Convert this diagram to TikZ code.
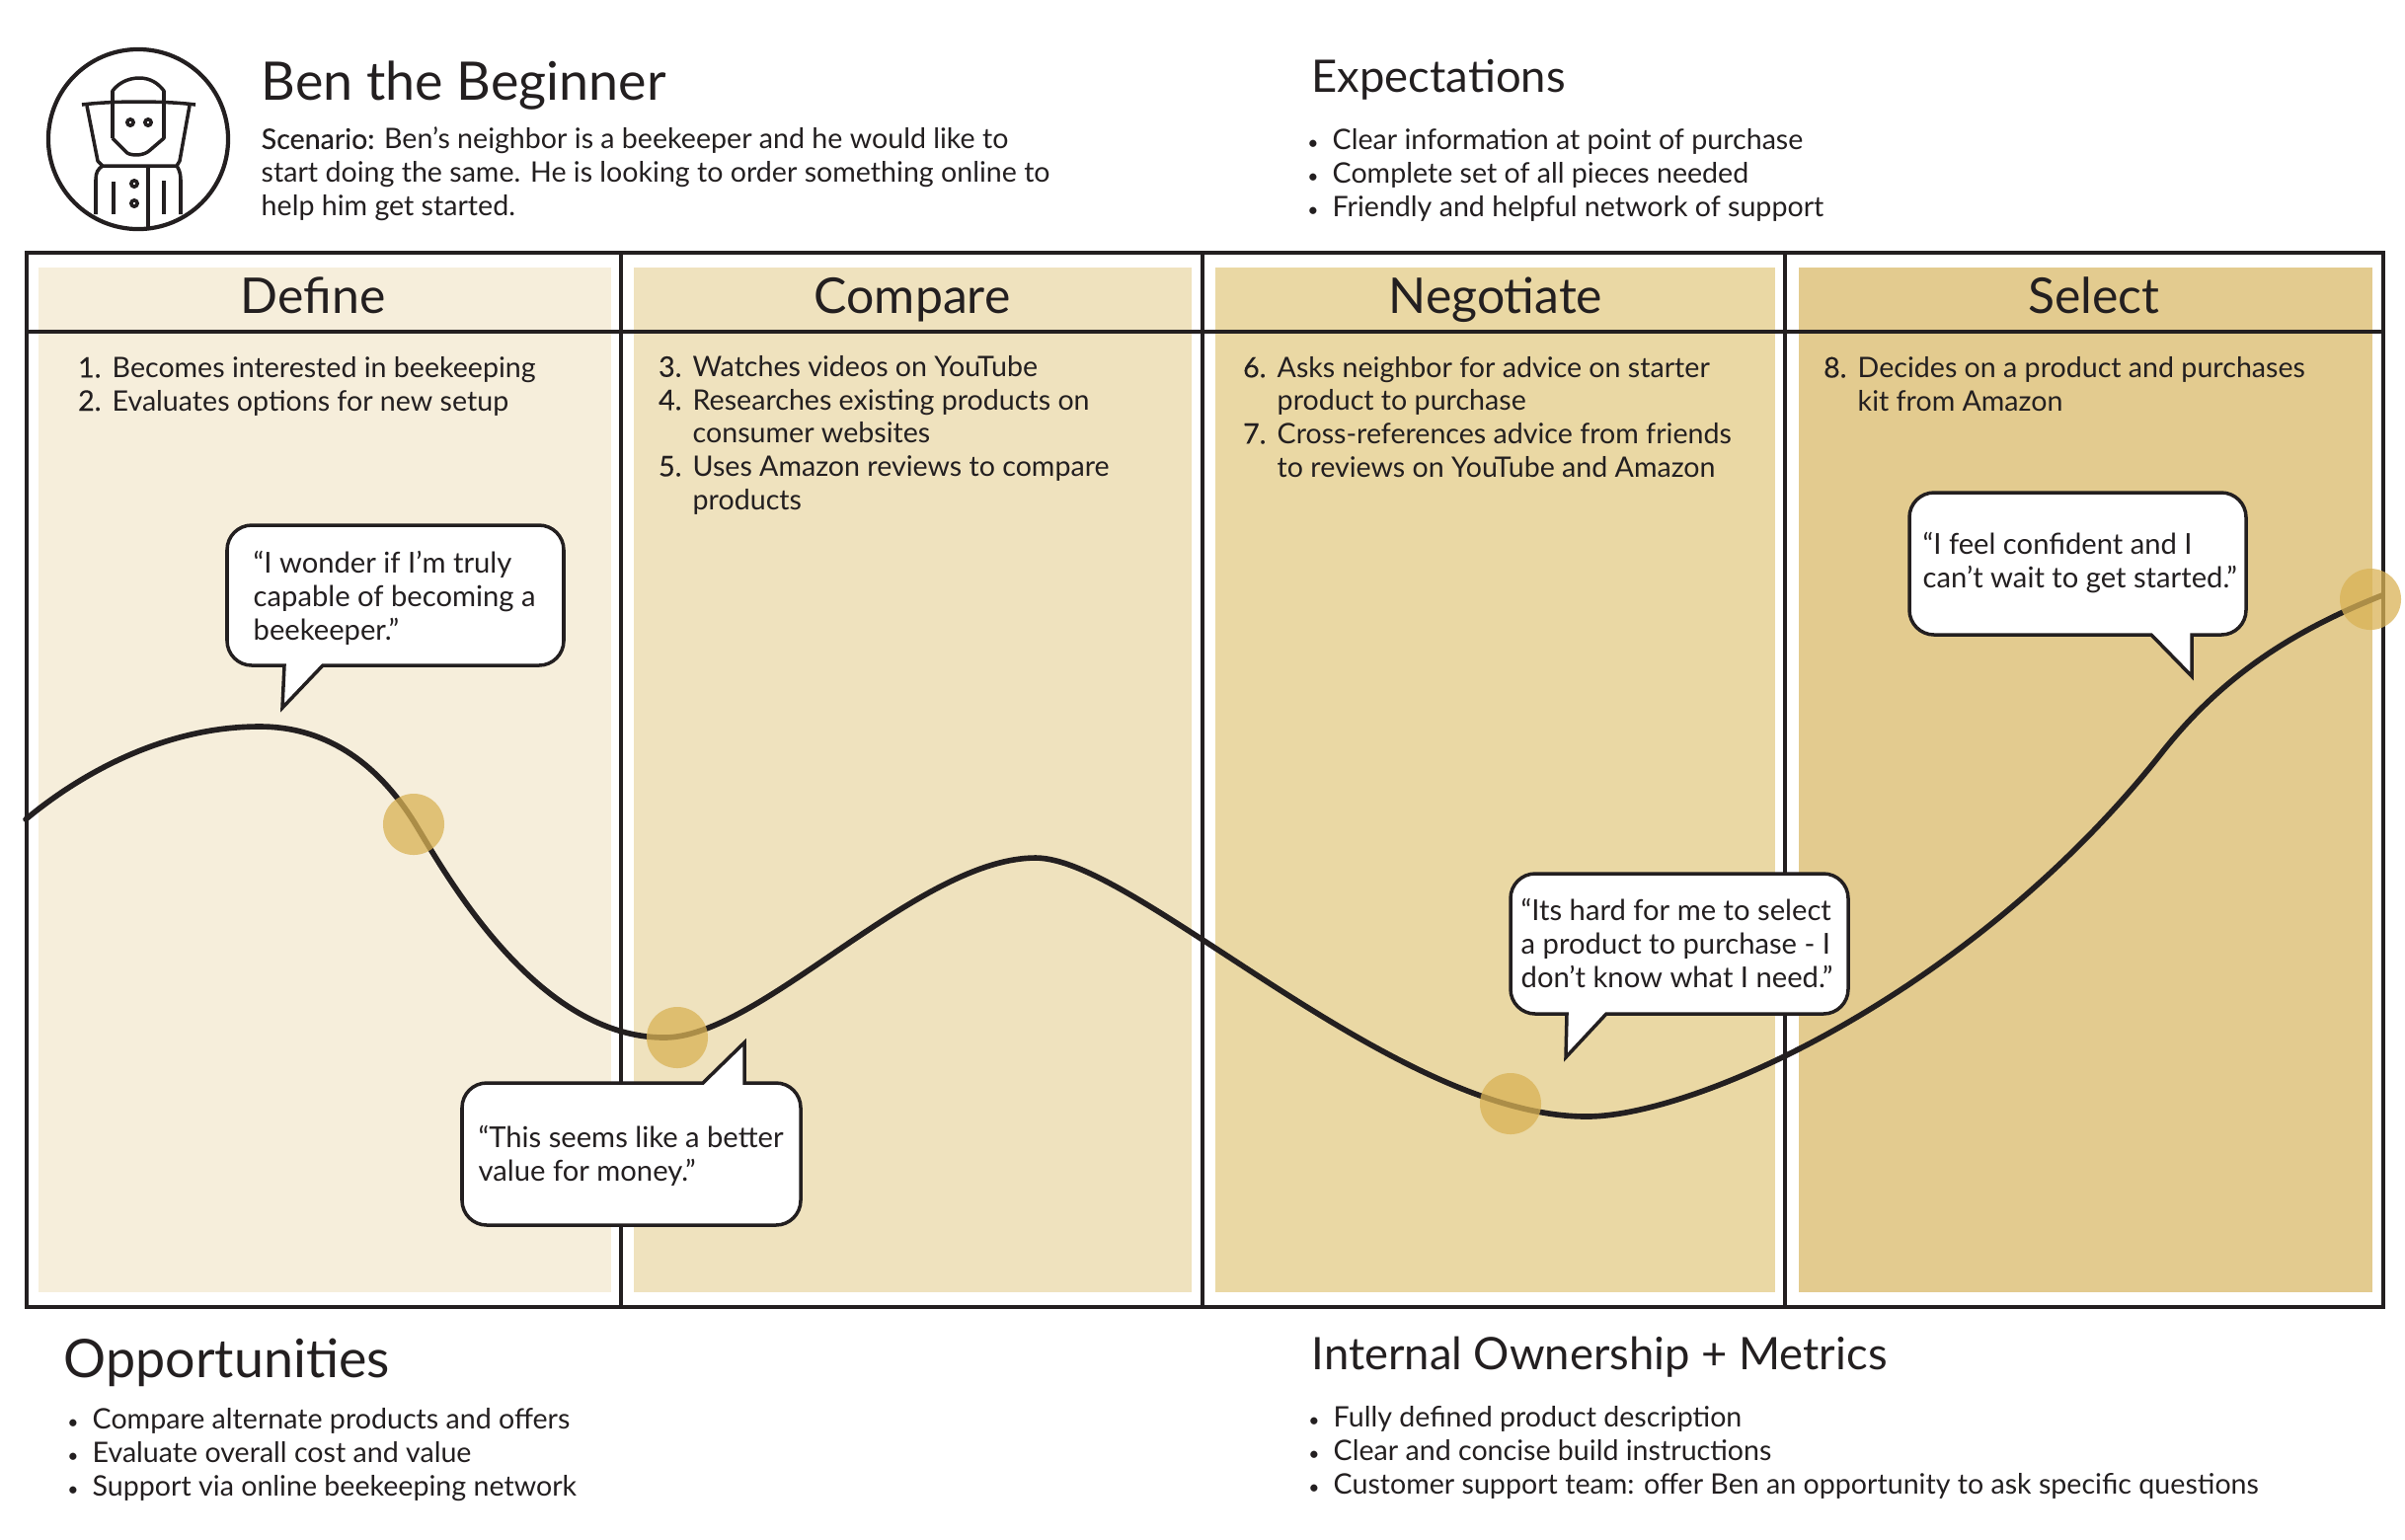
\documentclass[tikz,border=0pt]{standalone}
\usepackage{fontspec}
\setmainfont{Lato}
\newfontfamily\medfont[FakeBold=0.2]{Lato}
\definecolor{inkdark}{HTML}{231F20}
\definecolor{definefill}{HTML}{F6EEDB}
\definecolor{comparefill}{HTML}{EFE2BE}
\definecolor{negotiatefill}{HTML}{EAD8A4}
\definecolor{selectfill}{HTML}{E3CB8F}
\definecolor{dotfill}{HTML}{D9B255}
\newcommand{\numitem}[1]{\makebox[0pt][r]{\medfont #1\hspace{3.2pt}}}
\newcommand{\bulitem}{\makebox[0pt][r]{{\fontsize{5.5}{5.5}\selectfont\textbullet}\hspace{4pt}}}
\tikzset{
	body/.style={anchor=base west, align=left, inner sep=0pt, text=inkdark, font=\fontsize{8.13}{9.55}\selectfont},
	quotetext/.style={body, font=\fontsize{8.3}{9.55}\selectfont},
	bigtitle/.style={anchor=base west, inner sep=0pt, text=inkdark, font=\fontsize{15.3}{18}\selectfont},
	subtitle/.style={anchor=base west, inner sep=0pt, text=inkdark, font=\fontsize{12.9}{16}\selectfont},
	stagetitle/.style={anchor=base, inner sep=0pt, text=inkdark, font=\fontsize{14.2}{18}\selectfont},
	panel/.style={anchor=north west, inner sep=0pt, minimum height=10.38cm},
	bubble/.style={draw=inkdark, fill=white, line width=1pt, line join=miter},
	iconline/.style={draw=inkdark, line width=1pt, line join=round},
	touchdot/.style={circle, fill=dotfill, opacity=0.75, minimum size=0.62cm, inner sep=0pt},
}
\begin{document}
\begin{tikzpicture}[x=0.01cm, y=-0.01cm]
	\useasboundingbox (0,0) rectangle (2436,1559);

	% stage panels
	\node (definePanel) [panel, fill=definefill, minimum width=5.80cm] at (38,270) {};
	\node (comparePanel) [panel, fill=comparefill, minimum width=5.65cm] at (641,270) {};
	\node (negotiatePanel) [panel, fill=negotiatefill, minimum width=5.67cm] at (1230,270) {};
	\node (selectPanel) [panel, fill=selectfill, minimum width=5.81cm] at (1821,270) {};

	\node (defineTitle) [stagetitle] at (317,317) {Define};
	\node (compareTitle) [stagetitle] at (924,317) {Compare};
	\node (negotiateTitle) [stagetitle] at (1515,317) {Negotiate};
	\node (selectTitle) [stagetitle] at (2121,317) {Select};

	% frame
	\draw[draw=inkdark, line width=1.15pt] (27,256) rectangle (2414,1324);
	\draw[draw=inkdark, line width=1.15pt] (27,336) -- (2414,336);
	\draw[draw=inkdark, line width=1.15pt] (629,256) -- (629,1324);
	\draw[draw=inkdark, line width=1.15pt] (1218,256) -- (1218,1324);
	\draw[draw=inkdark, line width=1.15pt] (1808,256) -- (1808,1324);

	% journey line
	\draw[draw=inkdark, line width=1.6pt, line cap=round] (26,830)
		.. controls (80,785) and (165,736) .. (263,736)
		.. controls (335,736) and (385,778) .. (419,832)
		.. controls (447,877) and (540,1051) .. (673,1051)
		.. controls (770,1051) and (930,869) .. (1049,869)
		.. controls (1150,869) and (1410,1131) .. (1607,1131)
		.. controls (1720,1131) and (2000,1003) .. (2190,762)
		.. controls (2250,686) and (2320,640) .. (2413,603);

	\node (dotOne) [touchdot] at (419,835) {};
	\node (dotTwo) [touchdot] at (686,1051) {};
	\node (dotThree) [touchdot] at (1530,1118) {};
	\node (dotFour) [touchdot] at (2401,607) {};

	% quotes
	\draw[bubble] (288,674) [rounded corners=0.25cm] -- (230,674) -- (230,532) -- (571,532) -- (571,674) [sharp corners] -- (327,674) -- (286,717) -- cycle;
	\draw[bubble] (712,1097) [rounded corners=0.25cm] -- (468,1097) -- (468,1241) -- (811,1241) -- (811,1097) [sharp corners] -- (754,1097) -- (754,1056) -- cycle;
	\draw[bubble] (1587,1027) [rounded corners=0.25cm] -- (1530,1027) -- (1530,885) -- (1872,885) -- (1872,1027) [sharp corners] -- (1627,1027) -- (1586,1071) -- cycle;
	\draw[bubble] (2179,643) [rounded corners=0.25cm] -- (1934,643) -- (1934,499) -- (2275,499) -- (2275,643) [sharp corners] -- (2220,643) -- (2220,685) -- cycle;

	\node (quoteOne) [quotetext] at (256,648) {“I wonder if I’m truly\\capable of becoming a\\beekeeper.”};
	\node (quoteTwo) [quotetext] at (484,1196) {“This seems like a better\\value for money.”};
	\node (quoteThree) [quotetext] at (1540,1000) {“Its hard for me to select\\a product to purchase - I\\don’t know what I need.”};
	\node (quoteFour) [quotetext] at (1947,595) {“I feel confident and I\\can’t wait to get started.”};

	% stage steps
	\node (defineSteps) [body] at (113,416) {\numitem{1.}Becomes interested in beekeeping\\\numitem{2.}Evaluates options for new setup};
	\node (compareSteps) [body] at (701,516) {\numitem{3.}Watches videos on YouTube\\\numitem{4.}Researches existing products on\\consumer websites\\\numitem{5.}Uses Amazon reviews to compare\\products};
	\node (negotiateSteps) [body] at (1293,483) {\numitem{6.}Asks neighbor for advice on starter\\product to purchase\\\numitem{7.}Cross-references advice from friends\\to reviews on YouTube and Amazon};
	\node (selectSteps) [body] at (1881,416) {\numitem{8.}Decides on a product and purchases\\kit from Amazon};

	% persona
	\node (beeCircle) [circle, draw=inkdark, line width=1.2pt, minimum size=1.82cm, inner sep=0pt] at (140,141) {};
	\draw[iconline] (114,140) -- (114,103) -- (114,92) .. controls (120,84) and (130,79) .. (141,79) .. controls (152,79) and (160,84) .. (166,92) -- (166,140) -- (152,152) .. controls (146,158) and (134,158) .. (129,155) -- (114,140);
	\draw[iconline] (83,106) .. controls (115,102) and (166,102) .. (198,106);
	\draw[iconline] (88,107) -- (99,163) -- (104,168) -- (179,168) -- (182,163) -- (192,107);
	\draw[iconline] (104,168) .. controls (99,171) and (97,175) .. (97,182) -- (97,217);
	\draw[iconline] (179,168) .. controls (181,171) and (183,175) .. (183,182) -- (183,217);
	\draw[iconline] (150,168) -- (150,230);
	\draw[iconline] (115,184) -- (115,217);
	\draw[iconline] (166,183) -- (166,217);
	\draw[iconline] (132,124) circle (3.2);
	\draw[iconline] (150,124) circle (3.2);
	\draw[iconline] (136,186) circle (3.2);
	\draw[iconline] (136,206) circle (3.2);

	\node (personaName) [bigtitle] at (264,101) {Ben the Beginner};
	\node (scenarioText) [body] at (264,218) {{\medfont Scenario:} Ben’s neighbor is a beekeeper and he would like to\\start doing the same. He is looking to order something online to\\help him get started.};

	\node (expectTitle) [subtitle] at (1328,93) {Expectations};
	\node (expectList) [body] at (1349,219) {\bulitem Clear information at point of purchase\\\bulitem Complete set of all pieces needed\\\bulitem Friendly and helpful network of support};

	\node (oppTitle) [bigtitle] at (64,1395) {Opportunities};
	\node (oppList) [body] at (93,1515) {\bulitem Compare alternate products and offers\\\bulitem Evaluate overall cost and value\\\bulitem Support via online beekeeping network};

	\node (ownerTitle) [subtitle] at (1328,1387) {Internal Ownership + Metrics};
	\node (ownerList) [body] at (1350,1513) {\bulitem Fully defined product description\\\bulitem Clear and concise build instructions\\\bulitem Customer support team: offer Ben an opportunity to ask specific questions};
\end{tikzpicture}
\end{document}
